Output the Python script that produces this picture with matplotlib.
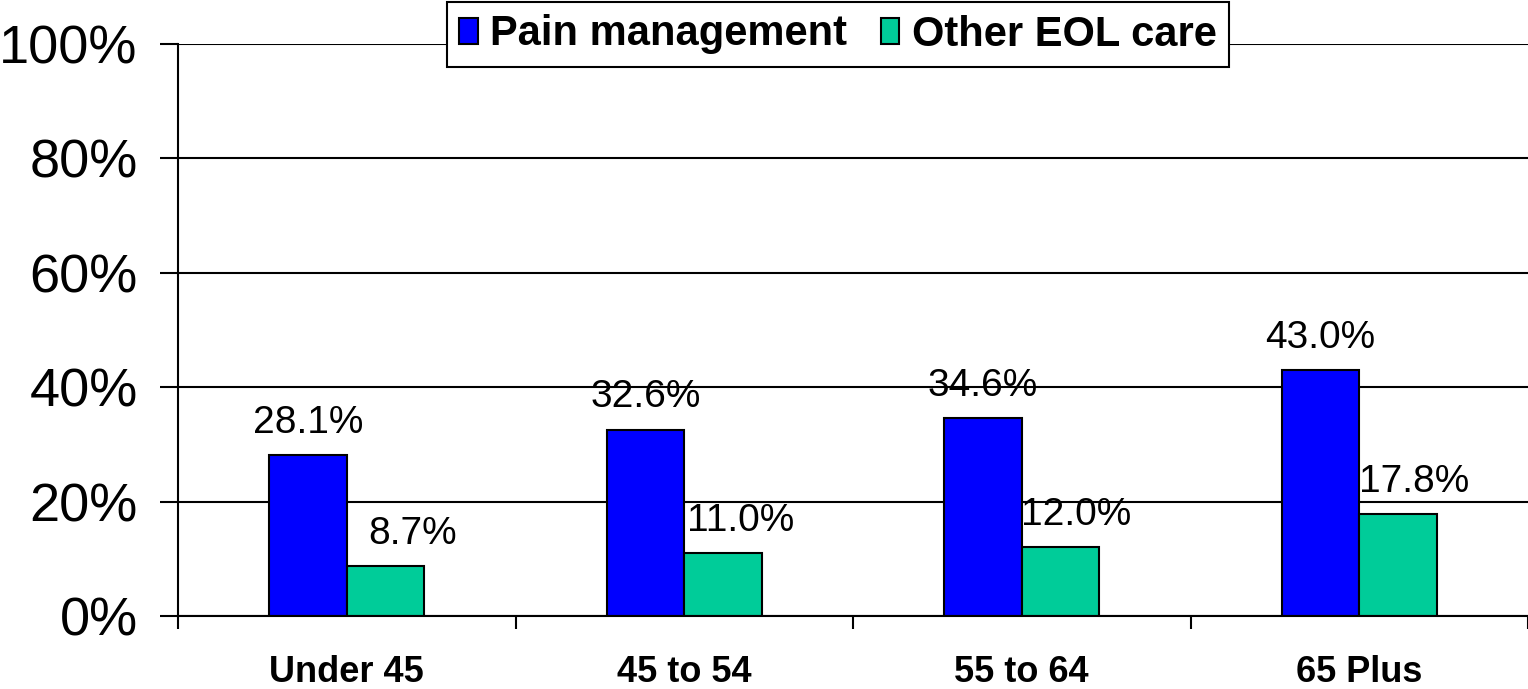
import matplotlib.pyplot as plt
import numpy as np

plt.rcParams['font.family'] = ['Liberation Sans', 'DejaVu Sans']

categories = ['Under 45', '45 to 54', '55 to 64', '65 Plus']
pain = [28.1, 32.6, 34.6, 43.0]
other = [8.7, 11.0, 12.0, 17.8]
series_names = ['Pain management', 'Other EOL care']

fig = plt.figure(figsize=(15.28, 6.89), dpi=100)
ax = fig.add_axes([178 / 1528, 1 - 616 / 689, 1 - 178 / 1528, (616 - 44) / 689])

x = np.arange(len(categories))
w = 0.23
b1 = ax.bar(x - w / 2, pain, w, color='#0000FF', edgecolor='black', linewidth=1.5,
            label=series_names[0], zorder=3)
b2 = ax.bar(x + w / 2, other, w, color='#00CC99', edgecolor='black', linewidth=1.5,
            label=series_names[1], zorder=3)

# data labels
for xi, v in zip(x, pain):
    ax.annotate(f'{v:.1f}%', (xi - w / 2, v), xytext=(0, 16), textcoords='offset points',
                ha='center', va='baseline', fontsize=28)
for xi, v in zip(x, other):
    ax.annotate(f'{v:.1f}%', (xi + w + 0.095, v), xytext=(0, 16), textcoords='offset points',
                ha='right', va='baseline', fontsize=28)

ax.set_xlim(-0.5, len(categories) - 0.5)
ax.set_ylim(0, 100)
ax.set_yticks(range(0, 101, 20))
ax.set_yticklabels([f'{t}%' for t in range(0, 101, 20)], fontsize=39)
ax.yaxis.grid(True, color='black', linewidth=1.5, zorder=0)

ax.set_xticks(np.arange(-0.5, len(categories), 1.0))
ax.set_xticklabels([])
ax.set_xticks(x, minor=True)
ax.set_xticklabels(categories, minor=True, fontsize=26, fontweight='bold')
ax.tick_params(axis='x', which='minor', length=0, pad=28)
ax.tick_params(axis='x', which='major', length=9, width=1.5, direction='out')
ax.tick_params(axis='y', length=13, width=1.5, direction='out', pad=16)

for s in ['top', 'right']:
    ax.spines[s].set_visible(False)
for s in ['left', 'bottom']:
    ax.spines[s].set_linewidth(1.5)
    ax.spines[s].set_zorder(4)

leg = fig.legend(handles=[b1, b2], loc='upper center', bbox_to_anchor=(838 / 1528, 1 - 2 / 689),
                 ncol=2, fancybox=False, framealpha=1, edgecolor='black',
                 prop={'size': 30, 'weight': 'bold'}, handlelength=0.45, handleheight=0.6,
                 handletextpad=0.3, columnspacing=0.8, borderpad=0.3, borderaxespad=0)
leg.get_frame().set_linewidth(1.5)

fig.savefig('out.png', dpi=100)
